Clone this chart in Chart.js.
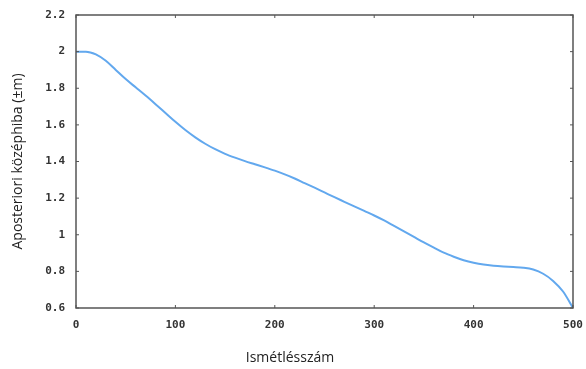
<!DOCTYPE html>
<html>
<head>
<meta charset="utf-8">
<script src="https://cdn.jsdelivr.net/npm/chart.js@4/dist/chart.umd.min.js"></script>
<style>
html,body{margin:0;padding:0;background:#fff;}
#wrap{width:586px;height:369px;position:relative;}
</style>
</head>
<body>
<div id="wrap"><canvas id="c"></canvas></div>
<script>
// iterations (x) and a-posteriori error values (y)
var iterations = [0,10,20,30,40,50,60,70,80,90,100,110,120,130,140,150,160,170,180,190,200,
  210,220,230,240,250,260,270,280,290,300,310,320,330,340,350,360,370,380,390,400,
  410,420,430,440,450,460,470,480,490,500];
var errors = [2.00,2.00,1.985,1.95,1.90,1.85,1.805,1.76,1.713,1.665,1.617,1.572,1.532,1.497,1.467,1.442,1.421,1.402,1.385,1.368,1.35,
  1.33,1.307,1.282,1.257,1.231,1.205,1.18,1.155,1.13,1.105,1.078,1.048,1.018,0.988,0.958,0.93,0.902,0.88,0.861,0.847,
  0.837,0.831,0.827,0.824,0.82,0.81,0.787,0.748,0.69,0.60];
var xTicks = [0,100,200,300,400,500];
var yTicks = [0.6,0.8,1,1.2,1.4,1.6,1.8,2,2.2];
var yTickLabels = ["0.6","0.8","1","1.2","1.4","1.6","1.8","2","2.2"];
var xTitle = "Ismétlésszám";
var yTitle = "Aposteriori középhiba (±m)";

var points = [];
for (var i = 0; i < iterations.length; i++) {
  points.push({x: iterations[i], y: errors[i]});
}

// box around plot + inward tick marks, gnuplot style
var frame = {
  id: 'frame',
  afterDraw: function(chart) {
    var ctx = chart.ctx, a = chart.chartArea;
    var xs = chart.scales.x, ys = chart.scales.y;
    ctx.save();
    ctx.strokeStyle = '#555';
    ctx.lineWidth = 1.5;
    ctx.strokeRect(a.left, a.top, a.right - a.left, a.bottom - a.top);
    ctx.lineWidth = 1;
    xTicks.forEach(function(v){
      var px = xs.getPixelForValue(v);
      ctx.beginPath();
      ctx.moveTo(px, a.bottom); ctx.lineTo(px, a.bottom - 3);
      ctx.moveTo(px, a.top); ctx.lineTo(px, a.top + 3);
      ctx.stroke();
    });
    yTicks.forEach(function(v){
      var py = ys.getPixelForValue(v);
      ctx.beginPath();
      ctx.moveTo(a.left, py); ctx.lineTo(a.left + 3, py);
      ctx.moveTo(a.right, py); ctx.lineTo(a.right - 3, py);
      ctx.stroke();
    });
    // x axis title, sits a bit left of centre in the original
    ctx.fillStyle = '#222';
    ctx.font = '14px "Open Sans"';
    ctx.textAlign = 'center';
    ctx.textBaseline = 'middle';
    ctx.fillText(xTitle, 290, 358);
    ctx.restore();
  }
};

var tickFont = {family: '"DejaVu Sans Mono"', size: 11, weight: 'bold'};

new Chart(document.getElementById('c'), {
  type: 'line',
  data: {
    datasets: [{
      data: points,
      borderColor: '#62a8ee',
      borderWidth: 2,
      pointRadius: 0,
      cubicInterpolationMode: 'monotone',
      fill: false
    }]
  },
  options: {
    responsive: true,
    maintainAspectRatio: false,
    animation: false,
    layout: {padding: {top: 15, right: 13, left: 0, bottom: 0}},
    plugins: {legend: {display: false}, tooltip: {enabled: false}},
    scales: {
      x: {
        type: 'linear', min: 0, max: 500,
        afterBuildTicks: function(s){ s.ticks = xTicks.map(function(v){ return {value: v}; }); },
        afterFit: function(s){ s.height = 61; s.paddingLeft = 0; s.paddingRight = 0; },
        grid: {display: false, drawTicks: false},
        border: {display: false},
        ticks: {font: tickFont, color: '#333', padding: 11, maxRotation: 0}
      },
      y: {
        type: 'linear', min: 0.6, max: 2.2,
        afterBuildTicks: function(s){ s.ticks = yTicks.map(function(v){ return {value: v}; }); },
        afterFit: function(s){ s.width = 76; s.paddingTop = 0; s.paddingBottom = 0; },
        grid: {display: false, drawTicks: false},
        border: {display: false},
        ticks: {font: tickFont, color: '#333', padding: 11,
          callback: function(v, idx){ return yTickLabels[idx]; }},
        title: {display: true, text: yTitle, color: '#222', font: {family: '"Open Sans"', size: 14}, padding: {top: 10, bottom: 0}}
      }
    }
  },
  plugins: [frame]
});
</script>
</body>
</html>
